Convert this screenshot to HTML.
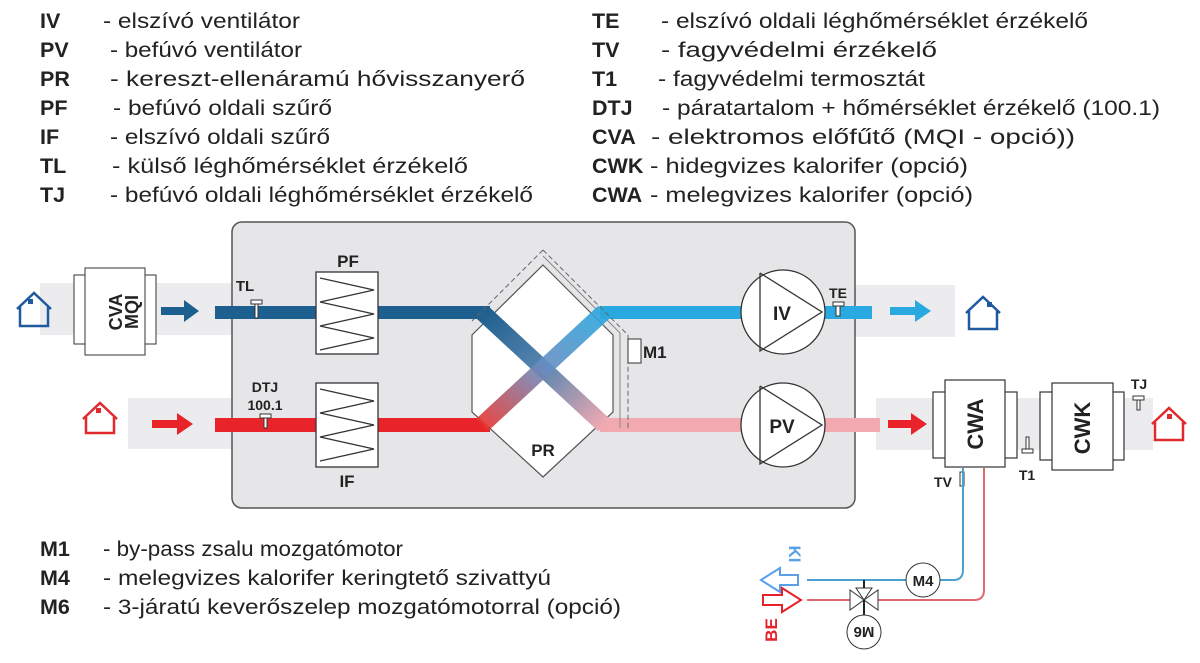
<!DOCTYPE html>
<html><head><meta charset="utf-8"><style>
html,body{margin:0;padding:0;background:#fff;}
svg{display:block;}
text{font-family:"Liberation Sans",sans-serif;fill:#222;}
.b{font-weight:bold;}
</style></head><body>
<svg width="1200" height="663" viewBox="0 0 1200 663" xmlns="http://www.w3.org/2000/svg">
<defs>
<linearGradient id="g1" x1="0" y1="0" x2="1" y2="1"><stop offset="0" stop-color="#1d5f8e"/><stop offset="0.5" stop-color="#5a86b0"/><stop offset="1" stop-color="#f0aab2"/></linearGradient>
<linearGradient id="g2" x1="0" y1="1" x2="1" y2="0"><stop offset="0" stop-color="#e8342e"/><stop offset="0.5" stop-color="#6a8cc0"/><stop offset="1" stop-color="#2aa8e0"/></linearGradient>
</defs>
<!-- legend top -->
<g font-size="21.5">
<text class="b" x="40" y="28">IV</text><text x="103" y="28" textLength="197" lengthAdjust="spacingAndGlyphs">- elszívó ventilátor</text>
<text class="b" x="40" y="57">PV</text><text x="110" y="57" textLength="192" lengthAdjust="spacingAndGlyphs">- befúvó ventilátor</text>
<text class="b" x="40" y="86">PR</text><text x="110" y="86" textLength="415" lengthAdjust="spacingAndGlyphs">- kereszt-ellenáramú hővisszanyerő</text>
<text class="b" x="40" y="115">PF</text><text x="113" y="115" textLength="219" lengthAdjust="spacingAndGlyphs">- befúvó oldali szűrő</text>
<text class="b" x="40" y="144">IF</text><text x="110" y="144" textLength="220" lengthAdjust="spacingAndGlyphs">- elszívó oldali szűrő</text>
<text class="b" x="40" y="173">TL</text><text x="112" y="173" textLength="356" lengthAdjust="spacingAndGlyphs">- külső léghőmérséklet érzékelő</text>
<text class="b" x="40" y="202">TJ</text><text x="110" y="202" textLength="423" lengthAdjust="spacingAndGlyphs">- befúvó oldali léghőmérséklet érzékelő</text>

<text class="b" x="592" y="28">TE</text><text x="661" y="28" textLength="427" lengthAdjust="spacingAndGlyphs">- elszívó oldali léghőmérséklet érzékelő</text>
<text class="b" x="592" y="57">TV</text><text x="661" y="57" textLength="276" lengthAdjust="spacingAndGlyphs">- fagyvédelmi érzékelő</text>
<text class="b" x="592" y="86">T1</text><text x="658" y="86" textLength="267" lengthAdjust="spacingAndGlyphs">- fagyvédelmi termosztát</text>
<text class="b" x="592" y="115">DTJ</text><text x="662" y="115" textLength="498" lengthAdjust="spacingAndGlyphs">- páratartalom + hőmérséklet érzékelő (100.1)</text>
<text class="b" x="592" y="144">CVA</text><text x="651" y="144" textLength="424" lengthAdjust="spacingAndGlyphs">- elektromos előfűtő (MQI - opció))</text>
<text class="b" x="592" y="173">CWK</text><text x="650" y="173" textLength="318" lengthAdjust="spacingAndGlyphs">- hidegvizes kalorifer (opció)</text>
<text class="b" x="592" y="202">CWA</text><text x="650" y="202" textLength="323" lengthAdjust="spacingAndGlyphs">- melegvizes kalorifer (opció)</text>

<text class="b" x="40" y="556">M1</text><text x="103" y="556" textLength="300" lengthAdjust="spacingAndGlyphs">- by-pass zsalu mozgatómotor</text>
<text class="b" x="40" y="585">M4</text><text x="103" y="585" textLength="448" lengthAdjust="spacingAndGlyphs">- melegvizes kalorifer keringtető szivattyú</text>
<text class="b" x="40" y="614">M6</text><text x="103" y="614" textLength="518" lengthAdjust="spacingAndGlyphs">- 3-járatú keverőszelep mozgatómotorral (opció)</text>
</g>

<!-- outer grey ducts -->
<rect x="40" y="283" width="192" height="52" fill="#ececee"/>
<rect x="128" y="398" width="104" height="51" fill="#ececee"/>
<rect x="855" y="285" width="100" height="52" fill="#ececee"/>
<rect x="876" y="398" width="277" height="52" fill="#ececee"/>

<!-- main box -->
<rect x="232" y="222" width="623" height="286" rx="10" fill="#e6e6e8" stroke="#555" stroke-width="1.5"/>

<!-- CVA -->
<rect x="74" y="275" width="82" height="69" fill="#fff" stroke="#333"/>
<rect x="85" y="268" width="60" height="87" fill="#fff" stroke="#333"/>
<text class="b" font-size="18" transform="translate(122,312) rotate(-90)" text-anchor="middle">CVA</text>
<text class="b" font-size="18" transform="translate(138,312) rotate(-90)" text-anchor="middle">MQI</text>

<!-- houses -->
<g fill="none" stroke-width="2.5">
<path d="M17 309 L34 293 L51 309 M20 307 V326 H48 V307" stroke="#1f5aa0"/>
<path d="M83 419 L100 403 L117 419 M86 417 V433 H114 V417" stroke="#e02a2e"/>
<path d="M966 313 L983 297 L1000 313 M969 311 V329 H997 V311" stroke="#1f5aa0"/>
<path d="M1152 424 L1169 408 L1186 424 M1155 422 V440 H1183 V422" stroke="#e02a2e"/>
</g>
<rect x="28" y="299" width="5" height="5" fill="#1f5aa0"/>
<rect x="96" y="408" width="5" height="5" fill="#e02a2e"/>
<rect x="987" y="302" width="5" height="5" fill="#1f5aa0"/>
<rect x="1167" y="414" width="5" height="5" fill="#e02a2e"/>

<!-- arrows -->
<path d="M161 307 H184 V300 L199 311 L184 322 V315 H161Z" fill="#1d5f8e"/>
<path d="M152 420 H177 V413 L193 424 L177 435 V428 H152Z" fill="#e8242a"/>
<path d="M890 307 H915 V300 L931 311 L915 322 V315 H890Z" fill="#2aa8e0"/>
<path d="M888 420 H911 V413 L927 424 L911 435 V428 H888Z" fill="#e8242a"/>

<!-- ducts inside -->
<rect x="215" y="306" width="275" height="13" fill="#1d5f8e"/>
<rect x="600" y="306" width="272" height="13" fill="#2aa8e0"/>
<rect x="215" y="418" width="275" height="14" fill="#e8242a"/>
<rect x="600" y="418" width="280" height="14" fill="#f2a9b0"/>

<!-- exchanger -->
<path d="M543 250 L628 335 V430" fill="none" stroke="#666" stroke-dasharray="5,3"/>
<path d="M543 250 L472 321" fill="none" stroke="#666" stroke-dasharray="5,3"/>
<path d="M543 256 L620 333 V428" fill="none" stroke="#888" stroke-width="1"/>
<polygon points="543,265 613,335 613,412 543,477 472,412 472,335" fill="#fff" stroke="#555" stroke-width="1.2"/>
<line x1="482" y1="312" x2="604" y2="425" stroke="url(#g1)" stroke-width="17"/>
<line x1="482" y1="425" x2="604" y2="312" stroke="url(#g2)" stroke-width="17" opacity="0.9"/>
<text class="b" x="543" y="456" font-size="17" text-anchor="middle">PR</text>

<!-- M1 -->
<rect x="628" y="339" width="13" height="24" fill="#fff" stroke="#333"/>
<text class="b" x="643" y="358" font-size="17" fill="#222">M1</text>

<!-- filters -->
<g fill="#fff" stroke="#333" stroke-width="1.3">
<rect x="316" y="272" width="62" height="82"/>
<path d="M320 278 L374 290 L320 302 L374 314 L320 326 L374 338 L320 350" fill="none"/>
<rect x="316" y="383" width="62" height="84"/>
<path d="M320 389 L374 401 L320 413 L374 425 L320 437 L374 449 L320 461" fill="none"/>
</g>
<text class="b" x="348" y="267" font-size="17" text-anchor="middle">PF</text>
<text class="b" x="347" y="487" font-size="17" text-anchor="middle">IF</text>

<!-- sensors -->
<g fill="#fff" stroke="#333">
<rect x="251" y="300" width="11" height="4"/><rect x="255" y="304" width="3" height="14"/>
<rect x="260" y="414" width="11" height="4"/><rect x="264" y="418" width="3" height="10"/>
<rect x="833" y="302" width="11" height="4"/><rect x="836" y="306" width="4" height="10"/>
<rect x="1133" y="396" width="11" height="4"/><rect x="1137" y="400" width="3" height="10"/>
<rect x="1022" y="449" width="11" height="4"/><rect x="1026" y="437" width="3" height="12"/>
<rect x="960" y="472" width="4" height="14"/>
</g>
<text class="b" x="245" y="291" font-size="15" text-anchor="middle">TL</text>
<text class="b" x="265" y="392" font-size="14" text-anchor="middle">DTJ</text>
<text class="b" x="265" y="410" font-size="14" text-anchor="middle">100.1</text>
<text class="b" x="838" y="298" font-size="14" text-anchor="middle">TE</text>
<text class="b" x="1139" y="389" font-size="14" text-anchor="middle">TJ</text>
<text class="b" x="1027" y="480" font-size="14" text-anchor="middle">T1</text>
<text class="b" x="943" y="487" font-size="14" text-anchor="middle">TV</text>

<!-- fans -->
<g fill="#fff" stroke="#333" stroke-width="1.3">
<circle cx="783" cy="312" r="42"/>
<polyline points="760,273 822,312 760,351 760,273" fill="none"/>
<circle cx="783" cy="425" r="42"/>
<polyline points="760,386 822,425 760,464 760,386" fill="none"/>
</g>
<text class="b" x="782" y="320" font-size="19" text-anchor="middle">IV</text>
<text class="b" x="782" y="433" font-size="19" text-anchor="middle">PV</text>

<!-- CWA / CWK -->
<g fill="#fff" stroke="#333" stroke-width="1.2">
<rect x="933" y="392" width="84" height="66"/>
<rect x="945" y="380" width="60" height="87"/>
<rect x="1040" y="392" width="84" height="68"/>
<rect x="1052" y="383" width="61" height="87"/>
</g>
<text class="b" font-size="22" transform="translate(983,424) rotate(-90)" text-anchor="middle">CWA</text>
<text class="b" font-size="22" transform="translate(1090,428) rotate(-90)" text-anchor="middle">CWK</text>

<!-- pipes -->
<path d="M963 468 V570 Q963 580 953 580 H807" fill="none" stroke="#4aa0d0" stroke-width="2"/>
<path d="M984 468 V590 Q984 600 974 600 H807" fill="none" stroke="#e06870" stroke-width="2"/>
<circle cx="923" cy="580" r="17" fill="#fff" stroke="#333"/>
<text class="b" x="923" y="586" font-size="15" text-anchor="middle">M4</text>
<line x1="864" y1="580" x2="864" y2="632" stroke="#222" stroke-width="2"/>
<polygon points="850,590 878,610 878,590 850,610" fill="#fff" stroke="#333"/>
<polygon points="856,588 872,588 864,600" fill="#fff" stroke="#333"/>
<line x1="864" y1="600" x2="864" y2="615" stroke="#222" stroke-width="2"/>
<circle cx="864" cy="632" r="17" fill="#fff" stroke="#333"/>
<text class="b" font-size="15" transform="translate(864,627) rotate(180)" text-anchor="middle">M6</text>
<path d="M798 575 H780 V568 L761 580 L780 592 V585 H798Z" fill="#fff" stroke="#5aa0e6" stroke-width="2"/>
<path d="M763 595 H782 V588 L801 600 L782 612 V605 H763Z" fill="#fff" stroke="#e8202a" stroke-width="2"/>
<text class="b" font-size="17" transform="translate(789,554) rotate(90)" text-anchor="middle" style="fill:#5aa0e6">KI</text>
<text class="b" font-size="17" transform="translate(777,630) rotate(-90)" text-anchor="middle" style="fill:#e8202a">BE</text>
</svg>
</body></html>
